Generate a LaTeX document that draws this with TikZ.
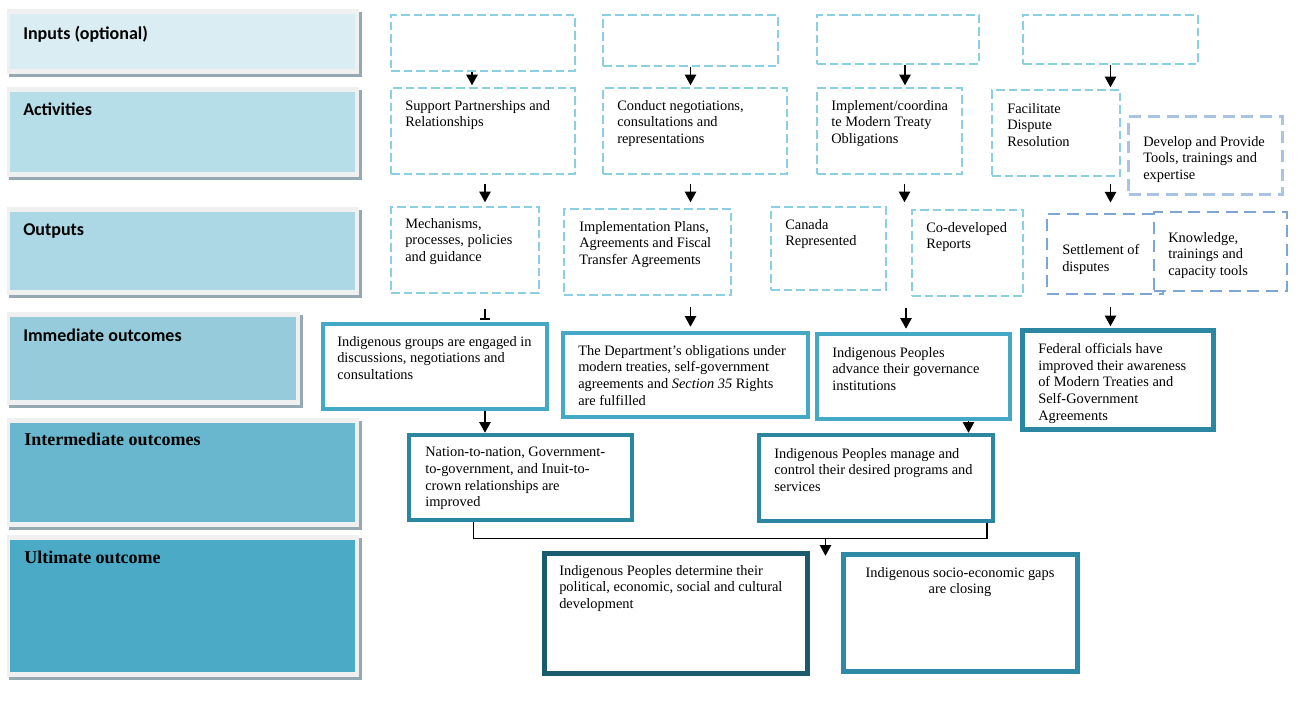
\documentclass[tikz,border=0pt]{standalone}
\usepackage{fontspec}
\setmainfont{Liberation Serif}
\newfontfamily\calib{Carlito}
\usetikzlibrary{arrows.meta,fit,calc}
\definecolor{inpc}{HTML}{DAEDF3}
\definecolor{actc}{HTML}{B6DEE9}
\definecolor{outc}{HTML}{ACD8E5}
\definecolor{immc}{HTML}{95CBDB}
\definecolor{intc}{HTML}{69B7CE}
\definecolor{ultc}{HTML}{4BAAC6}
\definecolor{framec}{HTML}{F0F0F0}
\definecolor{shadc}{HTML}{95A9B3}
\definecolor{dashc}{HTML}{8ACFE2}
\definecolor{toolc}{HTML}{A9C3E3}
\definecolor{setlc}{HTML}{7FA5D3}
\definecolor{imml}{HTML}{45A8C5}
\definecolor{immd}{HTML}{2A86A1}
\definecolor{ultd}{HTML}{1C5A6E}
\definecolor{ultl}{HTML}{2D8AA6}
\tikzset{
  dbox/.style={draw=dashc,line width=1.1pt,dash pattern=on 6.5pt off 3pt,inner sep=0pt,fill=white},
  tbox/.style={draw=#1,line width=2.2pt,dash pattern=on 9pt off 5pt,inner sep=0pt,fill=white},
  obox/.style={draw=#1,line width=3.4pt,inner sep=0pt,fill=white},
  txt/.style={anchor=north west,inner sep=0pt,align=left,font=\fontsize{10.8}{12.5}\selectfont},
  lbl/.style={anchor=north west,inner sep=0pt,font=\calib\bfseries\fontsize{13.5}{16}\selectfont},
  lblt/.style={anchor=north west,inner sep=0pt,font=\bfseries\fontsize{13.5}{16}\selectfont},
  arr/.style={line width=1.2pt,-{Triangle[length=8pt,width=8.5pt]}},
  conn/.style={line width=1.1pt}
}
\begin{document}
\begin{tikzpicture}[x=0.75pt,y=-0.75pt]
\useasboundingbox (0,0) rectangle (1300,707);
% level frames on the left
\foreach \ya/\yb/\xb/\c in {9/77/362/inpc,87/180/362/actc,207/298/362/outc,312/408/303/immc,418/530/362/intc,535/680/362/ultc}{
  \fill[shadc] (9,\ya+3) rectangle (\xb,\yb);
  \fill[framec] (7,\ya) rectangle (\xb-3,\yb-3);
  \fill[\c] (10,\ya+5) rectangle (\xb-7,\yb-8);}
\node[lbl] (lin) at (23,26) {Inputs (optional)};
\node[lbl] (lact) at (23,103) {Activities};
\node[lbl] (lout) at (23,223) {Outputs};
\node[lbl] (limm) at (23,329) {Immediate outcomes};
\node[lblt] (lint) at (24,433) {Intermediate outcomes};
\node[lblt] (lult) at (24,551) {Ultimate outcome};

% inputs
\node[dbox,fit={(391,15)(575,71)}] (i1) {};
\node[dbox,fit={(603,15)(778,66)}] (i2) {};
\node[dbox,fit={(817,15)(979,64)}] (i3) {};
\node[dbox,fit={(1023,15)(1198,64)}] (i4) {};

% activities
\node[dbox,fit={(391,88)(575,174)}] (a1) {};
\node[dbox,fit={(603,88)(787,174)}] (a2) {};
\node[dbox,fit={(817,88)(962,174)}] (a3) {};
\node[dbox,fit={(992,90)(1120,176)}] (a4) {};
\node[tbox=toolc,fit={(1128.5,116.5)(1282.5,194.5)}] (a5) {};
\node[txt] (a1t) at (405,100) {Support Partnerships and\\Relationships};
\node[txt] (a2t) at (617,100) {Conduct negotiations,\\consultations and\\representations};
\node[txt] (a3t) at (831,100) {Implement/coordina\\te Modern Treaty\\Obligations};
\node[txt] (a4t) at (1007,103) {Facilitate\\Dispute\\Resolution};
\node[txt] (a5t) at (1143,136) {Develop and Provide\\Tools, trainings and\\expertise};

% outputs
\node[dbox,fit={(391,207)(539,293)}] (o1) {};
\node[dbox,fit={(564,209)(731,295)}] (o2) {};
\node[dbox,fit={(771,207)(886,290)}] (o3) {};
\node[dbox,fit={(912,210)(1023,296)}] (o4) {};
\node[tbox=setlc,fit={(1047,214)(1163,294)}] (o5) {};
\node[tbox=setlc,fit={(1154,212)(1287,291)}] (o6) {};
\node[txt] (o1t) at (405,218) {Mechanisms,\\processes, policies\\and guidance};
\node[txt] (o2t) at (579,221) {Implementation Plans,\\Agreements and Fiscal\\Transfer Agreements};
\node[txt] (o3t) at (785,219) {Canada\\Represented};
\node[txt] (o4t) at (926,222) {Co-developed\\Reports};
\node[txt] (o5t) at (1062,244) {Settlement of\\disputes};
\node[txt] (o6t) at (1168,232) {Knowledge,\\trainings and\\capacity tools};

% immediate outcomes
\node[obox=imml,fit={(323,324)(547,409)}] (imm1) {};
\node[obox=imml,fit={(563,333)(808,417)}] (imm2) {};
\node[obox=imml,fit={(817,334)(1010,419)}] (imm3) {};
\node[obox=immd,fit={(1022.5,330.5)(1213.5,429.5)}] (imm4) {};
\node[txt] (imm1t) at (337,336) {Indigenous groups are engaged in\\discussions, negotiations and\\consultations};
\node[txt] (imm2t) at (578,345) {The Department’s obligations under\\modern treaties, self-government\\agreements and \textit{Section 35} Rights\\are fulfilled};
\node[txt] (imm3t) at (832,347) {Indigenous Peoples\\advance their governance\\institutions};
\node[txt] (imm4t) at (1038,343) {Federal officials have\\improved their awareness\\of Modern Treaties and\\Self-Government\\Agreements};

% intermediate outcomes
\node[obox=immd,fit={(409,435)(632,520)}] (int1) {};
\node[obox=immd,fit={(759,435)(993,521)}] (int2) {};
\node[txt] (int1t) at (425,447) {Nation-to-nation, Government-\\to-government, and Inuit-to-\\crown relationships are\\improved};
\node[txt] (int2t) at (774,448) {Indigenous Peoples manage and\\control their desired programs and\\services};

% ultimate outcomes
\node[obox=ultd,fit={(544.5,553.5)(807.5,673.5)}] (u1) {};
\node[obox=ultl,fit={(843.5,554.5)(1077.5,671.5)}] (u2) {};
\node[txt] (u1t) at (559,565) {Indigenous Peoples determine their\\political, economic, social and cultural\\development};
\node[txt,anchor=north,align=center] (u2t) at (960,567) {Indigenous socio-economic gaps\\are closing};

% arrows
\draw[arr] ($(i1.south)+(-11,0)$) -- ($(i1.south |- a1.north)+(-11,-2)$);
\draw[arr] (i2.south) -- ($(i2.south |- a2.north)+(0,-2)$);
\draw[arr] ($(i3.south)+(7,0)$) -- ($(i3.south |- a3.north)+(7,-2)$);
\draw[arr] (i4.south) -- ($(i4.south |- a4.north)+(0,-2)$);
\draw[arr] ($(a1.south)+(2,9)$) -- ($(a1.south |- o1.north)+(2,-4)$);
\draw[arr] ($(a2.south -| i2.south)+(0,9)$) -- ($(i2.south |- o2.north)+(0,-6)$);
\draw[arr] ($(a3.south)+(15,9)$) -- ($(a3.south |- o3.north)+(15,-4)$);
\draw[arr] ($(a4.south -| i4.south)+(0,7)$) -- ($(i4.south |- o5.north)+(0,-10)$);
\draw[line width=1.1pt,-{Bar[width=7.5pt,line width=1.1pt]}] ($(o1.south -| a1.south)+(2,15)$) -- ($(a1.south |- imm1.north)+(2,-2)$);
\draw[arr] ($(o2.south -| i2.south)+(0,11)$) -- ($(i2.south |- imm2.north)+(0,-4)$);
\draw[arr] ($(o4.south -| i3.south)+(8,11)$) -- ($(i3.south |- imm3.north)+(8,-3)$);
\draw[arr] ($(o5.south -| i4.south)+(0,12)$) -- ($(i4.south |- imm4.north)+(0,-2)$);
\draw[arr] ($(imm1.south -| a1.south)+(2,0)$) -- ($(a1.south |- int1.north)+(2,0)$);
\draw[arr] ($(imm3.south)+(55,0)$) -- ($(imm3.south |- int2.north)+(55,0)$);
\draw[conn] ($(int1.south)+(-47,0)$) -- ++(0,16) coordinate (jn) -| ($(int2.south)+(111,0)$);
\coordinate (mid) at ($(u1.north east)!0.5!(u2.north west)$);
\draw[arr] (jn -| mid) -- ($(mid)+(0,4)$);
\end{tikzpicture}
\end{document}
